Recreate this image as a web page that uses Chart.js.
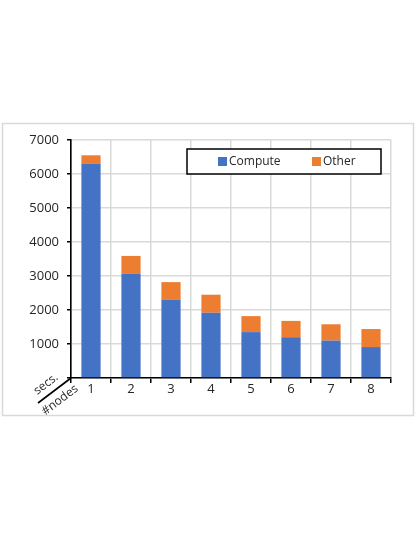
<!DOCTYPE html>
<html>
<head>
<meta charset="utf-8">
<script src="https://cdn.jsdelivr.net/npm/chart.js@4/dist/chart.umd.min.js"></script>
<style>
  html, body { margin: 0; padding: 0; background: #fff; }
  #wrap { position: relative; width: 417px; height: 540px; }
</style>
</head>
<body>
<div id="wrap"><canvas id="canvas" width="417" height="540"></canvas></div>
<script>
var nodes = ['1', '2', '3', '4', '5', '6', '7', '8'];
var compute = [6300, 3060, 2300, 1920, 1350, 1200, 1100, 910];
var other = [250, 530, 520, 530, 470, 480, 480, 530];
var yTicks = [0, 1000, 2000, 3000, 4000, 5000, 6000, 7000];

var blue = '#4472C4';
var orange = '#ED7D31';
var gridGrey = '#d9d9d9';
var textColor = '#262626';
var fontFamily = '"Open Sans", "Noto Sans", sans-serif';

// frame around the whole chart + corner labels + legend box
var decorations = {
    id: 'decorations',
    beforeDraw: function(chart) {
        var ctx = chart.ctx;
        ctx.save();
        ctx.fillStyle = '#fff';
        ctx.fillRect(0, 0, chart.width, chart.height);
        ctx.strokeStyle = gridGrey;
        ctx.lineWidth = 1.5;
        ctx.strokeRect(2.5, 123.5, 411, 292);
        ctx.restore();
    },
    afterDraw: function(chart) {
        var ctx = chart.ctx;
        var area = chart.chartArea;
        ctx.save();

        // diagonal corner divider
        ctx.strokeStyle = '#000';
        ctx.lineWidth = 1.6;
        ctx.beginPath();
        ctx.moveTo(area.left, area.bottom);
        ctx.lineTo(area.left - 33, area.bottom + 25);
        ctx.stroke();

        var ang = -37 * Math.PI / 180;
        ctx.fillStyle = textColor;
        ctx.font = '12px ' + fontFamily;
        ctx.textAlign = 'center';
        ctx.textBaseline = 'middle';
        ctx.save();
        ctx.translate(46, 384);
        ctx.rotate(ang);
        ctx.fillText('secs.', 0, 0);
        ctx.restore();
        ctx.save();
        ctx.translate(60, 400);
        ctx.rotate(ang);
        ctx.fillText('#nodes', 0, 0);
        ctx.restore();

        // legend
        var lx = 187, ly = 149, lw = 194, lh = 25;
        ctx.fillStyle = '#fff';
        ctx.fillRect(lx, ly, lw, lh);
        ctx.strokeStyle = '#000';
        ctx.lineWidth = 1.5;
        ctx.strokeRect(lx, ly, lw, lh);

        ctx.font = '12px ' + fontFamily;
        ctx.textAlign = 'left';
        var items = [
            { x: 218, ds: chart.data.datasets[0] },
            { x: 312, ds: chart.data.datasets[1] }
        ];
        items.forEach(function(it) {
            ctx.fillStyle = it.ds.backgroundColor;
            ctx.fillRect(it.x, ly + 8, 9, 9);
            ctx.fillStyle = textColor;
            ctx.fillText(it.ds.label, it.x + 11, ly + 12.5);
        });
        ctx.restore();
    }
};

window.onload = function() {
    var ctx = document.getElementById('canvas').getContext('2d');
    window.myBar = new Chart(ctx, {
        type: 'bar',
        data: {
            labels: nodes,
            datasets: [{
                label: 'Compute',
                data: compute,
                backgroundColor: blue,
                borderWidth: 0
            }, {
                label: 'Other',
                data: other,
                backgroundColor: orange,
                borderWidth: 0
            }]
        },
        options: {
            responsive: false,
            animation: false,
            devicePixelRatio: 1,
            categoryPercentage: 1,
            barPercentage: 0.48,
            layout: {
                padding: { left: 0, right: 26, top: 140, bottom: 132 }
            },
            plugins: {
                legend: { display: false },
                tooltip: { enabled: false }
            },
            scales: {
                x: {
                    stacked: true,
                    afterFit: function(scale) { scale.height = 30; },
                    grid: {
                        color: gridGrey,
                        lineWidth: 1.5,
                        tickColor: '#000',
                        tickLength: 5,
                        offset: true
                    },
                    border: { color: '#000', width: 1.6 },
                    ticks: {
                        color: textColor,
                        font: { family: fontFamily, size: 13 },
                        padding: -2,
                        maxRotation: 0
                    }
                },
                y: {
                    stacked: true,
                    min: 0,
                    max: 7000,
                    afterFit: function(scale) { scale.width = 71; },
                    afterBuildTicks: function(scale) {
                        scale.ticks = yTicks.map(function(v) { return { value: v }; });
                    },
                    grid: {
                        color: gridGrey,
                        lineWidth: 1.5,
                        tickColor: '#000',
                        tickLength: 4
                    },
                    border: { color: '#000', width: 1.6 },
                    ticks: {
                        color: textColor,
                        font: { family: fontFamily, size: 13 },
                        padding: 8,
                        callback: function(v) { return v === 0 ? '' : String(v); }
                    }
                }
            }
        },
        plugins: [decorations]
    });
};
</script>
</body>
</html>
